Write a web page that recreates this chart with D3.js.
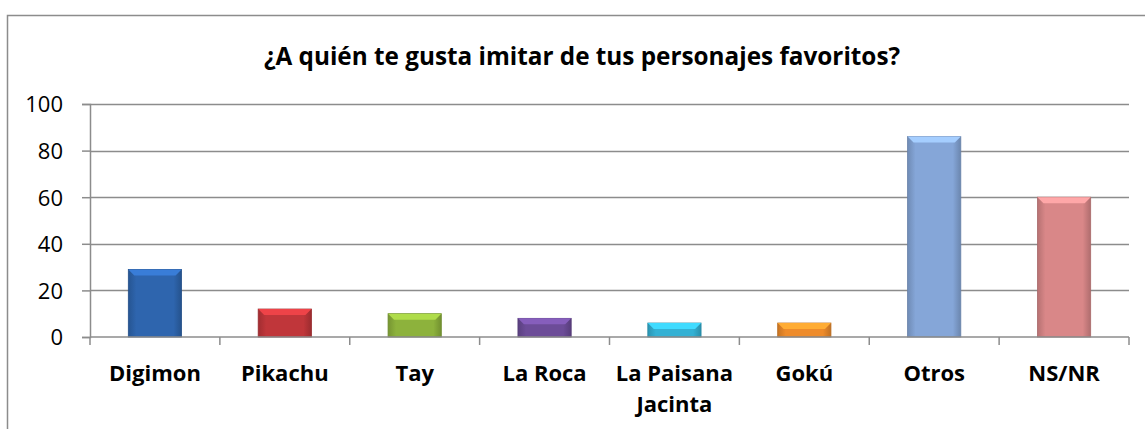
<!DOCTYPE html>
<html>
<head>
<meta charset="utf-8">
<script src="https://cdn.jsdelivr.net/npm/d3@7"></script>
<style>
  body { margin: 0; background: #fff; }
  svg text { font-family: "Open Sans", "Noto Sans", sans-serif; fill: #000; }
</style>
</head>
<body>
<div id="chart-area"></div>
<script>
// data
var categories = ["Digimon", "Pikachu", "Tay", "La Roca", "La Paisana Jacinta", "Gokú", "Otros", "NS/NR"];
var values = [29, 12, 10, 8, 6, 6, 86, 60];
var colors = ["#2e65ae", "#c0363a", "#8db23c", "#6c4c98", "#33b1d4", "#ee8b2a", "#85a6d8", "#d98788"];
var yTicks = [0, 20, 40, 60, 80, 100];

var W = 1145, H = 429;
var margin = {top: 104, left: 90, right: 16, bottom: 92};
var width = W - margin.left - margin.right,
    height = H - margin.top - margin.bottom;

var svg = d3.select("#chart-area").append("svg")
    .attr("width", W)
    .attr("height", H);

// chart frame
svg.append("path")
    .attr("d", "M7.5," + H + "V15.5H" + W)
    .attr("fill", "none")
    .attr("stroke", "#8c8c8c")
    .attr("stroke-width", 1.5);

svg.append("text")
    .attr("x", 582)
    .attr("y", 65)
    .attr("text-anchor", "middle")
    .style("font-size", "24.3px")
    .style("font-weight", "bold")
    .text("¿A quién te gusta imitar de tus personajes favoritos?");

var g = svg.append("g")
    .attr("transform", "translate(" + margin.left + "," + margin.top + ")");

var x = d3.scaleBand().domain(categories).range([0, width]).padding(0);
var y = d3.scaleLinear().domain([0, 100]).range([height, 0]);

// gridlines
g.selectAll(".grid").data(yTicks.slice(1)).enter().append("line")
    .attr("x1", 0).attr("x2", width)
    .attr("y1", function(d) { return Math.round(y(d)) + 0.5; })
    .attr("y2", function(d) { return Math.round(y(d)) + 0.5; })
    .attr("stroke", "#8c8c8c")
    .attr("stroke-width", 1.5);

// y axis
var yAxis = d3.axisLeft(y).tickValues(yTicks).tickSize(8).tickPadding(10);
var yg = g.append("g").call(yAxis);
yg.select(".domain").attr("stroke", "#8c8c8c").attr("stroke-width", 1.5);
yg.selectAll(".tick line").attr("stroke", "#8c8c8c").attr("stroke-width", 1.5);
yg.selectAll(".tick text").style("font-size", "22px").attr("dx", -9).attr("dy", "0.36em");

// gradients for bars
var defs = svg.append("defs");
colors.forEach(function(c, i) {
    var grad = defs.append("linearGradient").attr("id", "grad" + i)
        .attr("x1", "0").attr("x2", "1").attr("y1", "0").attr("y2", "0");
    grad.append("stop").attr("offset", "0").attr("stop-color", d3.color(c).darker(0.5));
    grad.append("stop").attr("offset", "0.15").attr("stop-color", c);
    grad.append("stop").attr("offset", "0.85").attr("stop-color", c);
    grad.append("stop").attr("offset", "1").attr("stop-color", d3.color(c).darker(0.6));
});

var bw = x.bandwidth() * 0.41;
var bars = g.selectAll(".bar").data(values).enter().append("g").attr("class", "bar");

bars.append("rect")
    .attr("x", function(d, i) { return x(categories[i]) + (x.bandwidth() - bw) / 2; })
    .attr("y", function(d) { return y(d); })
    .attr("width", bw)
    .attr("height", function(d) { return height - y(d); })
    .attr("fill", function(d, i) { return "url(#grad" + i + ")"; })
    .attr("stroke", function(d, i) { return d3.color(colors[i]).darker(0.7); })
    .attr("stroke-width", 0.8);

// top bevel
var bev = 6;
bars.append("path")
    .attr("d", function(d, i) {
        var x0 = x(categories[i]) + (x.bandwidth() - bw) / 2, x1 = x0 + bw, y0 = y(d);
        var b = Math.min(bev, (height - y0) / 2);
        return "M" + x0 + "," + y0 + "L" + x1 + "," + y0 + "L" + (x1 - b) + "," + (y0 + b) + "L" + (x0 + b) + "," + (y0 + b) + "Z";
    })
    .attr("fill", function(d, i) { return d3.color(colors[i]).brighter(0.6); });

// x axis
g.append("line")
    .attr("x1", 0).attr("x2", width)
    .attr("y1", height).attr("y2", height)
    .attr("stroke", "#8c8c8c").attr("stroke-width", 1.5);
g.selectAll(".xtick").data(d3.range(categories.length + 1)).enter().append("line")
    .attr("x1", function(d) { return d * x.step(); })
    .attr("x2", function(d) { return d * x.step(); })
    .attr("y1", height).attr("y2", height + 8)
    .attr("stroke", "#8c8c8c").attr("stroke-width", 1.5);

var labels = g.selectAll(".xlabel").data(categories).enter().append("text")
    .attr("text-anchor", "middle")
    .attr("x", function(d) { return x(d) + x.bandwidth() / 2; })
    .attr("y", height + 44)
    .style("font-size", "22px")
    .style("font-weight", "bold");

labels.each(function(d) {
    var t = d3.select(this);
    var lines = d === "La Paisana Jacinta" ? ["La Paisana", "Jacinta"] : [d];
    lines.forEach(function(l, k) {
        t.append("tspan").attr("x", t.attr("x")).attr("dy", k === 0 ? 0 : 31).text(l);
    });
});
</script>
</body>
</html>
